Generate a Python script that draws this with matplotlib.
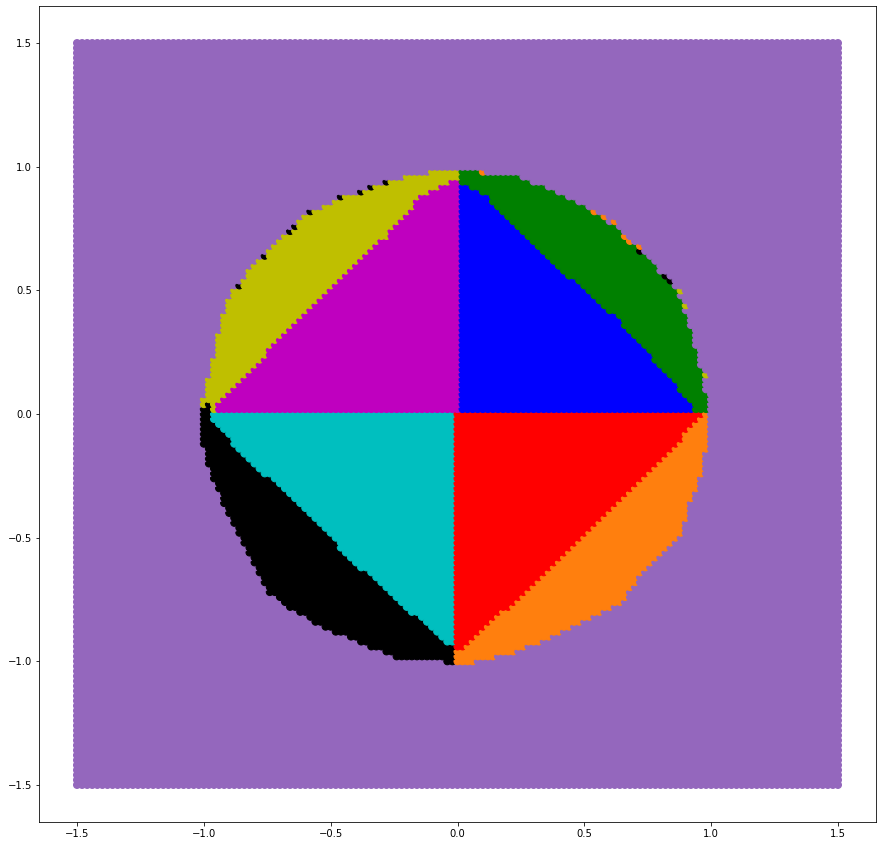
import numpy as np
from matplotlib import pyplot as plt
from matplotlib.path import Path

# grid of sample points the classifier was evaluated on
grid_min = -1.5
grid_max = 1.5
grid_n = 151

# outer edge of the predicted disc
outer_x = [0.989, 0.982, 0.956, 0.916, 0.877, 0.785, 0.654, 0.535, 0.404, 0.233, 0.03,
           -0.108, -0.266, -0.463, -0.608, -0.726, -0.831, -0.910, -0.963, -1.002,
           -1.015, -1.008, -0.976, -0.910, -0.831, -0.752, -0.621, -0.463, -0.240, 0.01,
           0.089, 0.233, 0.365, 0.522, 0.654, 0.732, 0.825, 0.890, 0.916, 0.969, 0.989, 0.995]
outer_y = [0.005, 0.086, 0.220, 0.354, 0.489, 0.597, 0.738, 0.826, 0.893, 0.967, 0.987,
           0.980, 0.947, 0.872, 0.798, 0.677, 0.570, 0.462, 0.220, 0.059,
           -0.015, -0.096, -0.231, -0.393, -0.554, -0.715, -0.809, -0.890, -0.984, -1.004,
           -0.998, -0.958, -0.904, -0.822, -0.755, -0.634, -0.540, -0.473, -0.365, -0.231, -0.096, -0.002]

# edge of the inner (diamond-like) region
inner_x = [0.969, 0.943, 0.838, 0.627, 0.365, 0.233, 0.168, 0.115, 0.01, 0.0,
           -0.135, -0.266, -0.476, -0.739, -0.949, -0.97,
           -0.969, -0.805, -0.634, -0.424, -0.214, -0.003,
           0.023, 0.155, 0.286, 0.404, 0.549, 0.706, 0.811]
inner_y = [-0.002, 0.011, 0.153, 0.395, 0.624, 0.758, 0.812, 0.893, 0.94, 0.95,
           0.893, 0.733, 0.531, 0.262, 0.031, -0.01,
           -0.022, -0.204, -0.350, -0.581, -0.771, -0.953,
           -0.944, -0.822, -0.702, -0.581, -0.446, -0.285, -0.177]

# misclassified points sitting on the boundaries
stray_x = [-0.86, -0.76, -0.66, -0.64, -0.58, -0.46, -0.38, -0.34, -0.28, -0.98, -1.0, -0.98,
           0.72, 0.82, 0.84,
           0.1, 0.54, 0.58, 0.62, 0.66, 0.68, 0.72,
           0.88, 0.9, 0.98]
stray_y = [0.52, 0.64, 0.74, 0.76, 0.82, 0.88, 0.9, 0.92, 0.94, 0.02, 0.02, 0.04,
           0.66, 0.56, 0.54,
           0.98, 0.82, 0.8, 0.78, 0.72, 0.7, 0.68,
           0.5, 0.44, 0.16]
stray_c = ['k'] * 15 + ['tab:orange'] * 7 + ['y'] * 3

# class colours: inner quadrants, ring quadrants, outside
inner_colors = ['b', 'm', 'c', 'r']
ring_colors = ['g', 'y', 'k', 'tab:orange']
outside_color = 'tab:purple'


def quadrant(x, y):
    q = np.zeros(len(x), dtype=int)
    upper = y > 0
    # the x = 0 column goes left in the top half, right in the bottom half
    right = np.where(upper, x > 0, x >= 0)
    q[upper & right] = 0
    q[upper & ~right] = 1
    q[~upper & ~right] = 2
    q[~upper & right] = 3
    return q


g = np.round(np.linspace(grid_min, grid_max, grid_n), 2)
xx, yy = np.meshgrid(g, g)
x = xx.ravel()
y = yy.ravel()
pts = np.column_stack([x, y])

in_outer = Path(np.column_stack([outer_x, outer_y])).contains_points(pts)
in_inner = Path(np.column_stack([inner_x, inner_y])).contains_points(pts)
q = quadrant(x, y)

colors = np.array([outside_color] * len(x), dtype=object)
for i in range(4):
    colors[in_outer & ~in_inner & (q == i)] = ring_colors[i]
    colors[in_inner & (q == i)] = inner_colors[i]

step = (grid_max - grid_min) / (grid_n - 1)
for sx, sy, sc in zip(stray_x, stray_y, stray_c):
    ix = int(round((sx - grid_min) / step))
    iy = int(round((sy - grid_min) / step))
    colors[iy * grid_n + ix] = sc

fig = plt.figure(figsize=(882 / 72, 846 / 72), dpi=72)
ax = fig.add_axes([39 / 882, 24 / 846, 837 / 882, 816 / 846])

ax.scatter(x, y, c=list(colors), s=50)

fig.savefig('out.png', dpi=72)
